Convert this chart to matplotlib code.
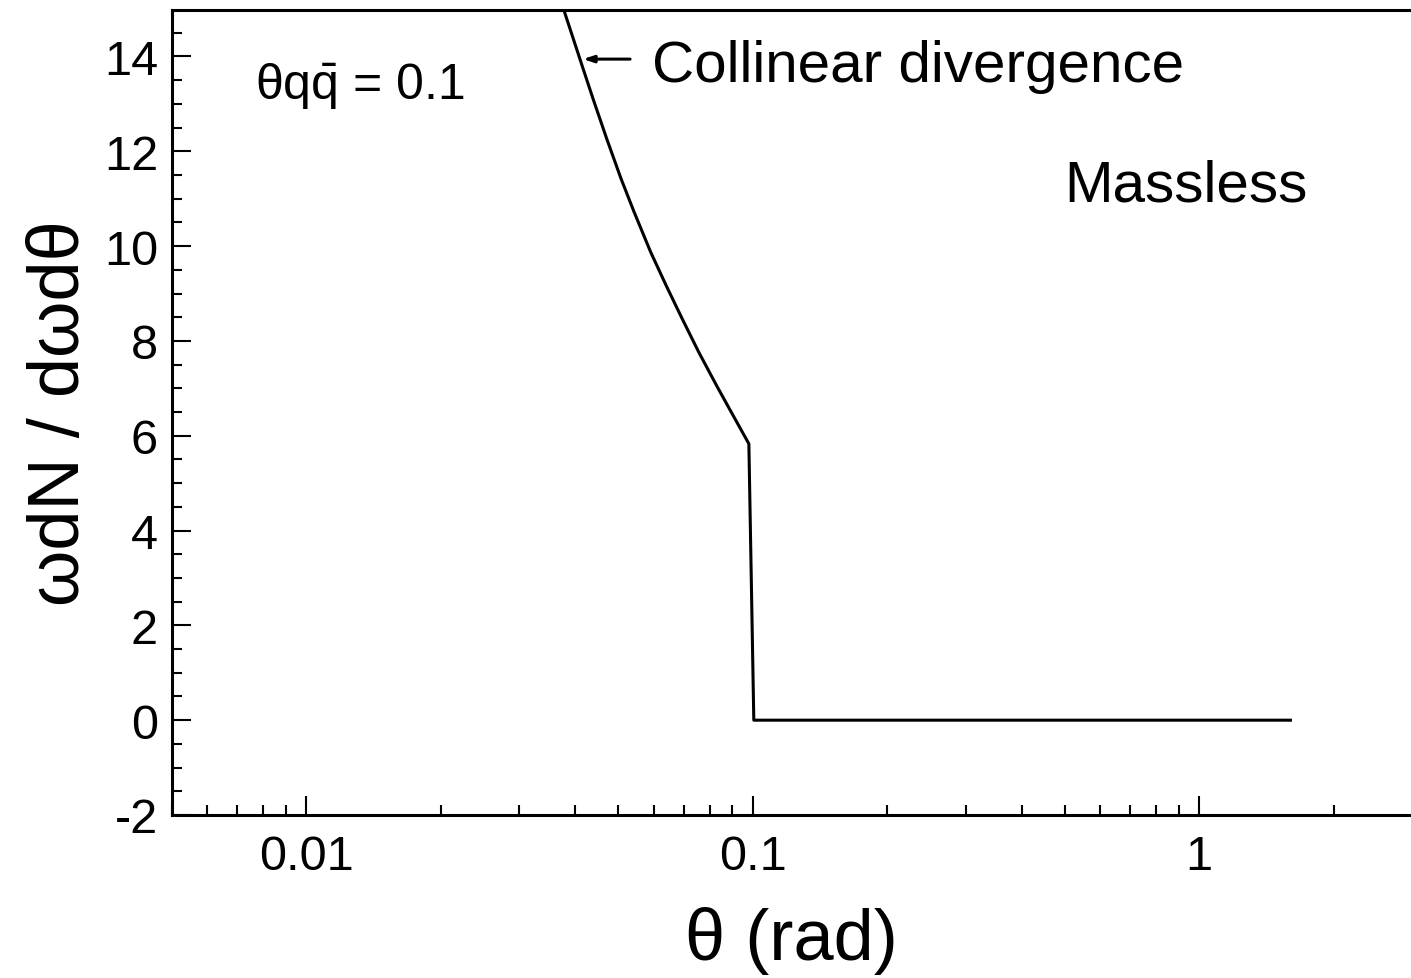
import numpy as np
import matplotlib
matplotlib.use("Agg")
import matplotlib.pyplot as plt
from matplotlib.ticker import LogLocator, MultipleLocator, FixedFormatter, FixedLocator

plt.rcParams["font.family"] = ["Liberation Sans", "DejaVu Sans"]
plt.rcParams["axes.unicode_minus"] = False
plt.rcParams["mathtext.fontset"] = "custom"
plt.rcParams["mathtext.rm"] = "Liberation Sans"
plt.rcParams["mathtext.it"] = "Liberation Sans"

# 曲线数据
theta = [0.03782, 0.04144, 0.04385, 0.04708, 0.05068, 0.05420, 0.05906,
         0.06394, 0.06944, 0.07568, 0.08292, 0.08944, 0.09797, 0.1005, 1.6]
dn = [14.95, 13.81, 13.11, 12.26, 11.42, 10.72, 9.87,
      9.17, 8.47, 7.76, 7.06, 6.50, 5.83, 0.0, 0.0]

x_ticks = [0.01, 0.1, 1]
x_ticklabels = ["0.01", "0.1", "1"]
y_ticks = [-2, 0, 2, 4, 6, 8, 10, 12, 14]

fig = plt.figure(figsize=(14.11, 9.79), dpi=100)
ax = fig.add_axes([172 / 1411, 163 / 979, 1239 / 1411, 805 / 979])

ax.plot(theta, dn, color="black", lw=2.2)

ax.set_xscale("log")
ax.set_xlim(0.005, 2.98)
ax.set_ylim(-2, 14.98)

ax.xaxis.set_major_locator(FixedLocator(x_ticks))
ax.xaxis.set_major_formatter(FixedFormatter(x_ticklabels))
ax.xaxis.set_minor_locator(LogLocator(base=10, subs=np.arange(2, 10), numticks=20))
ax.xaxis.set_minor_formatter(FixedFormatter([]))
ax.yaxis.set_major_locator(FixedLocator(y_ticks))
ax.yaxis.set_minor_locator(MultipleLocator(0.5))

ax.tick_params(which="both", direction="in", top=False, right=False, width=1.5)
ax.tick_params(which="major", length=14, labelsize=35)
ax.tick_params(axis="x", which="major", pad=14)
ax.tick_params(axis="y", which="major", pad=10)
ax.tick_params(which="minor", length=7)

for side in ["left", "bottom", "top"]:
    ax.spines[side].set_linewidth(2.2)
ax.spines["right"].set_visible(False)

ax.set_xlabel("θ (rad)", fontsize=52, labelpad=19)
ax.set_ylabel("ωdN / dωdθ", fontsize=52, labelpad=7)

ax.text(0.067, 0.889, r"$\mathrm{\theta q\bar{q}}$ = 0.1", transform=ax.transAxes,
        fontsize=36, va="baseline", ha="left")

# 箭头 + 注释
ax.annotate("", xy=(0.3317, 0.939), xytext=(0.3697, 0.939),
            xycoords="axes fraction", textcoords="axes fraction",
            arrowprops=dict(arrowstyle="-|>,head_length=0.6,head_width=0.2",
                            color="black", lw=2.2, shrinkA=0, shrinkB=0))
ax.text(0.3874, 0.912, "Collinear divergence", transform=ax.transAxes,
        fontsize=42, va="baseline", ha="left")
ax.text(0.72, 0.763, "Massless", transform=ax.transAxes,
        fontsize=42, va="baseline", ha="left")

fig.savefig("out.png", dpi=100)
